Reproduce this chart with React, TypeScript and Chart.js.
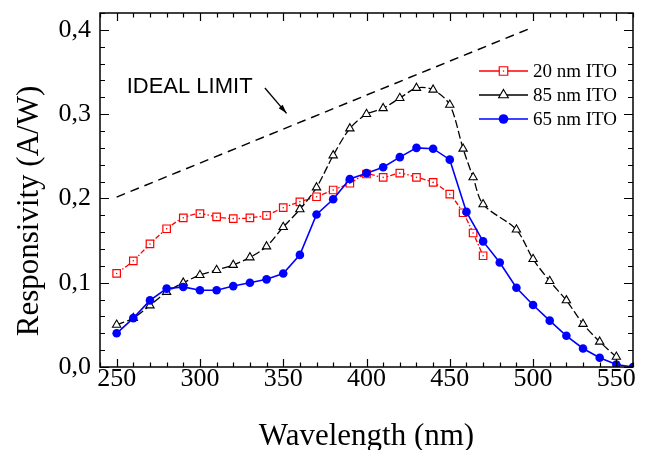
import React, { useEffect, useRef } from 'react';
import { Chart, registerables } from 'chart.js';

Chart.register(...registerables);

// ---- data ----
const wl20 = [250, 260, 270, 280, 290, 300, 310, 320, 330, 340, 350, 360, 370, 380, 390, 400, 410, 420, 430, 440, 450, 458, 464, 470];
const resp20 = [0.111, 0.126, 0.146, 0.164, 0.177, 0.182, 0.178, 0.176, 0.177, 0.180, 0.189, 0.196, 0.202, 0.210, 0.218, 0.229, 0.225, 0.230, 0.225, 0.219, 0.205, 0.183, 0.159, 0.132];

const wl85 = [250, 260, 270, 280, 290, 300, 310, 320, 330, 340, 350, 360, 370, 380, 390, 400, 410, 420, 430, 440, 450, 458, 464, 470, 490, 500, 510, 520, 530, 540, 550];
const resp85 = [0.050, 0.058, 0.073, 0.089, 0.100, 0.109, 0.115, 0.121, 0.130, 0.143, 0.166, 0.187, 0.213, 0.251, 0.283, 0.300, 0.307, 0.319, 0.331, 0.329, 0.311, 0.259, 0.225, 0.193, 0.163, 0.128, 0.102, 0.079, 0.051, 0.030, 0.012];

const wl65 = [250, 260, 270, 280, 290, 300, 310, 320, 330, 340, 350, 360, 370, 380, 390, 400, 410, 420, 430, 440, 450, 460, 470, 480, 490, 500, 510, 520, 530, 540, 550, 560];
const resp65 = [0.040, 0.058, 0.079, 0.093, 0.095, 0.091, 0.091, 0.096, 0.100, 0.104, 0.111, 0.133, 0.181, 0.199, 0.223, 0.230, 0.237, 0.249, 0.260, 0.259, 0.246, 0.184, 0.149, 0.124, 0.094, 0.0735, 0.055, 0.037, 0.022, 0.011, 0.003, 0.000];

const idealWl = [250, 500];
const idealResp = [0.2016, 0.4032];

const xTicks = [250, 300, 350, 400, 450, 500, 550];
const yTicks = [0, 0.1, 0.2, 0.3, 0.4];

const seriesLabels = ['20 nm ITO', '85 nm ITO', '65 nm ITO'];
const idealLabel = 'IDEAL LIMIT';
const idealLabelAt = [256, 0.325];
const arrowFrom = [339, 0.331];
const arrowTo = [352, 0.301];
const xTitle = 'Wavelength (nm)';
const yTitle = 'Responsivity (A/W)';

const X_MIN = 240, X_MAX = 560, Y_MIN = 0, Y_MAX = 0.42;

const RED = '#ff0000';
const BLACK = '#000000';
const BLUE = '#0000ff';
const SERIF = '"Liberation Serif", "Times New Roman", serif';
const SANS = '"Liberation Sans", Arial, sans-serif';

const toXY = (xs: number[], ys: number[]) => xs.map((x, i) => ({ x, y: ys[i] }));

function drawSquare(ctx: CanvasRenderingContext2D, x: number, y: number, s: number) {
  ctx.save();
  ctx.fillStyle = '#fff';
  ctx.strokeStyle = RED;
  ctx.lineWidth = 1.2;
  ctx.setLineDash([]);
  ctx.beginPath();
  ctx.rect(x - s / 2, y - s / 2, s, s);
  ctx.fill();
  ctx.stroke();
  ctx.fillStyle = RED;
  ctx.beginPath();
  ctx.arc(x, y, 0.8, 0, Math.PI * 2);
  ctx.fill();
  ctx.restore();
}
function drawTriangle(ctx: CanvasRenderingContext2D, x: number, y: number, r: number) {
  ctx.save();
  ctx.fillStyle = '#fff';
  ctx.strokeStyle = BLACK;
  ctx.lineWidth = 1.1;
  ctx.setLineDash([]);
  ctx.beginPath();
  ctx.moveTo(x, y - r);
  ctx.lineTo(x + r * Math.sin((2 * Math.PI) / 3), y + r / 2);
  ctx.lineTo(x - r * Math.sin((2 * Math.PI) / 3), y + r / 2);
  ctx.closePath();
  ctx.fill();
  ctx.stroke();
  ctx.restore();
}
function drawDot(ctx: CanvasRenderingContext2D, x: number, y: number, r: number) {
  ctx.save();
  ctx.fillStyle = BLUE;
  ctx.beginPath();
  ctx.arc(x, y, r, 0, Math.PI * 2);
  ctx.fill();
  ctx.restore();
}

const extras = {
  id: 'extras',
  afterDraw(chart: any) {
    const ctx: CanvasRenderingContext2D = chart.ctx;
    const { left, right, top, bottom } = chart.chartArea;
    const xs = chart.scales.x;
    const ys = chart.scales.y;
    ctx.save();
    ctx.setLineDash([]);
    // frame
    ctx.strokeStyle = '#000';
    ctx.lineWidth = 1.5;
    ctx.strokeRect(left, top, right - left, bottom - top);
    // ticks (inward, all four sides)
    ctx.lineWidth = 1.2;
    ctx.beginPath();
    for (let v = X_MIN; v <= X_MAX; v += 10) {
      const px = Math.round(xs.getPixelForValue(v)) + 0.5;
      const L = v % 50 === 0 ? 8 : 4.5;
      ctx.moveTo(px, bottom);
      ctx.lineTo(px, bottom - L);
      ctx.moveTo(px, top);
      ctx.lineTo(px, top + L);
    }
    for (let i = 0; i <= 21; i++) {
      const py = Math.round(ys.getPixelForValue(i * 0.02)) + 0.5;
      const L = i % 5 === 0 ? 9 : 5;
      ctx.moveTo(left, py);
      ctx.lineTo(left + L, py);
      ctx.moveTo(right, py);
      ctx.lineTo(right - L, py);
    }
    ctx.stroke();

    // axis titles
    ctx.fillStyle = '#000';
    ctx.font = `31px ${SERIF}`;
    ctx.textAlign = 'center';
    ctx.textBaseline = 'alphabetic';
    ctx.fillText(xTitle, (left + right) / 2, 445);
    ctx.save();
    ctx.translate(38, 211);
    ctx.rotate(-Math.PI / 2);
    ctx.fillText(yTitle, 0, 0);
    ctx.restore();

    // ideal limit label + arrow
    ctx.font = `22px ${SANS}`;
    ctx.textAlign = 'left';
    ctx.fillText(idealLabel, xs.getPixelForValue(idealLabelAt[0]), ys.getPixelForValue(idealLabelAt[1]));
    const ax0 = xs.getPixelForValue(arrowFrom[0]);
    const ay0 = ys.getPixelForValue(arrowFrom[1]);
    const ax1 = xs.getPixelForValue(arrowTo[0]);
    const ay1 = ys.getPixelForValue(arrowTo[1]);
    ctx.lineWidth = 1.3;
    ctx.beginPath();
    ctx.moveTo(ax0, ay0);
    ctx.lineTo(ax1, ay1);
    ctx.stroke();
    const ang = Math.atan2(ay1 - ay0, ax1 - ax0);
    const hl = 9, hw = 2.6;
    ctx.beginPath();
    ctx.moveTo(ax1, ay1);
    ctx.lineTo(ax1 - hl * Math.cos(ang) + hw * Math.sin(ang), ay1 - hl * Math.sin(ang) - hw * Math.cos(ang));
    ctx.lineTo(ax1 - hl * Math.cos(ang) - hw * Math.sin(ang), ay1 - hl * Math.sin(ang) + hw * Math.cos(ang));
    ctx.closePath();
    ctx.fill();

    // legend
    const colors = [RED, BLACK, BLUE];
    ctx.font = `19px ${SERIF}`;
    ctx.textBaseline = 'middle';
    for (let i = 0; i < 3; i++) {
      const y = top + 58 + 24 * i;
      const x0 = right - 154;
      const x1 = right - 105;
      ctx.strokeStyle = colors[i];
      ctx.lineWidth = 1.5;
      ctx.beginPath();
      ctx.moveTo(x0, y);
      ctx.lineTo(x1, y);
      ctx.stroke();
      const mx = (x0 + x1) / 2;
      if (i === 0) drawSquare(ctx, mx, y, 8.5);
      else if (i === 1) drawTriangle(ctx, mx, y, 5.6);
      else drawDot(ctx, mx, y, 4.8);
      ctx.fillStyle = '#000';
      ctx.fillText(seriesLabels[i], right - 100, y + 1);
    }
    ctx.restore();
  },
};

export default function App() {
  const ref = useRef<HTMLCanvasElement>(null);
  useEffect(() => {
    if (!ref.current) return;
    const chart = new Chart(ref.current, {
      type: 'line',
      data: {
        datasets: [
          {
            label: seriesLabels[2],
            data: toXY(wl65, resp65),
            borderColor: BLUE,
            backgroundColor: BLUE,
            borderWidth: 1.6,
            pointStyle: 'circle',
            pointRadius: 4.3,
            pointBorderWidth: 0,
            pointBackgroundColor: BLUE,
            tension: 0,
            order: 0,
          },
          {
            label: seriesLabels[1],
            data: toXY(wl85, resp85),
            borderColor: BLACK,
            borderWidth: 1.3,
            borderDash: [8, 3],
            pointStyle: 'triangle',
            pointRadius: 4.8,
            pointBorderWidth: 1.1,
            pointBorderColor: BLACK,
            pointBackgroundColor: '#fff',
            tension: 0.3,
            order: 1,
          },
          {
            label: 'dots',
            data: toXY(wl20, resp20),
            showLine: false,
            pointStyle: 'circle',
            pointRadius: 0.8,
            pointBorderWidth: 0,
            pointBackgroundColor: RED,
            order: 2,
          },
          {
            label: seriesLabels[0],
            data: toXY(wl20, resp20),
            borderColor: RED,
            borderWidth: 1.3,
            borderDash: [5, 2, 1.5, 2],
            pointStyle: 'rect',
            pointRadius: 5.3,
            pointBorderWidth: 1.2,
            pointBorderColor: RED,
            pointBackgroundColor: '#fff',
            tension: 0.25,
            order: 3,
          },
          {
            label: idealLabel,
            data: toXY(idealWl, idealResp),
            borderColor: BLACK,
            borderWidth: 1.5,
            borderDash: [9, 6],
            pointRadius: 0,
            tension: 0,
            order: 4,
          },
        ],
      },
      options: {
        animation: false,
        responsive: false,
        events: [],
        layout: { padding: { left: 0, top: 13, right: 12, bottom: 0 } },
        plugins: { legend: { display: false }, tooltip: { enabled: false } },
        scales: {
          x: {
            type: 'linear',
            min: X_MIN,
            max: X_MAX,
            afterBuildTicks: (s: any) => {
              s.ticks = xTicks.map((v) => ({ value: v }));
            },
            afterFit: (s: any) => {
              s.height = 83;
              s.paddingLeft = 0;
              s.paddingRight = 0;
              s.paddingTop = 0;
              s.paddingBottom = 0;
            },
            grid: { display: false, drawTicks: false },
            border: { display: false },
            ticks: {
              color: '#000',
              font: { family: SERIF, size: 26 },
              padding: -3,
              maxRotation: 0,
              autoSkip: false,
              callback: (v: any) => String(v),
            },
          },
          y: {
            type: 'linear',
            min: Y_MIN,
            max: Y_MAX,
            afterBuildTicks: (s: any) => {
              s.ticks = yTicks.map((v) => ({ value: v }));
            },
            afterFit: (s: any) => {
              s.width = 100;
              s.paddingLeft = 0;
              s.paddingRight = 0;
              s.paddingTop = 0;
              s.paddingBottom = 0;
            },
            grid: { display: false, drawTicks: false },
            border: { display: false },
            ticks: {
              color: '#000',
              font: { family: SERIF, size: 26 },
              padding: 9,
              autoSkip: false,
              callback: (v: any) => Number(v).toFixed(1).replace('.', ','),
            },
          },
        },
      },
      plugins: [extras],
    } as any);
    return () => chart.destroy();
  }, []);
  return (
    <div style={{ position: 'fixed', left: 0, top: 0, width: 645, height: 450, background: '#fff' }}>
      <canvas ref={ref} width={645} height={450} style={{ display: 'block', width: 645, height: 450 }} />
    </div>
  );
}
